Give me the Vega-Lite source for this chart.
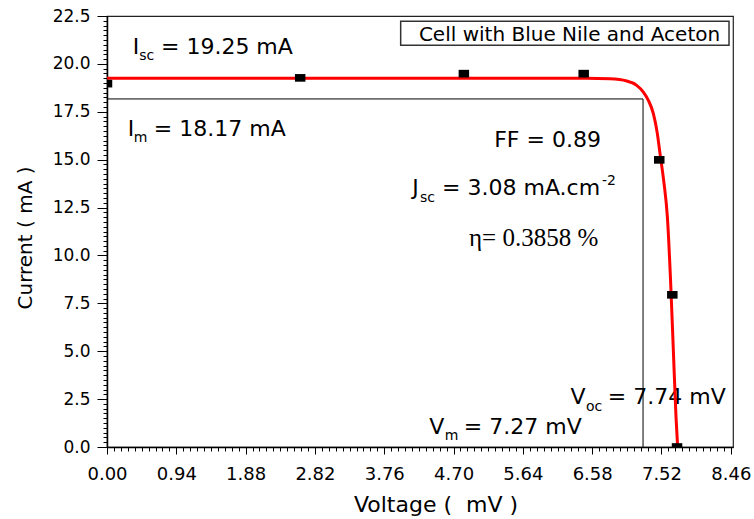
{
  "$schema": "https://vega.github.io/schema/vega-lite/v6.json",
  "width": 626,
  "height": 431,
  "autosize": {"type": "none"},
  "padding": {"left": 107, "top": 16, "right": 21, "bottom": 72},
  "background": "white",
  "config": {
    "view": {"stroke": "#222222", "strokeWidth": 1.2},
    "font": "DejaVu Sans",
    "axis": {"labelFont": "DejaVu Sans", "titleFont": "DejaVu Sans", "labelColor": "black", "titleColor": "black", "titleFontWeight": "normal", "grid": false,
      "labelOverlap": false, "labelFlush": false, "labelBound": false, "tickColor": "black", "domainColor": "black", "zindex": 2, "ticks": true, "domain": true, "tickWidth": 1, "domainWidth": 1.5}
  },
  "layer": [
    {
      "data": {"values": [
        {"x": 0, "x2": 7.27, "y": 18.17, "y2": 18.17},
        {"x": 7.27, "x2": 7.27, "y": 0, "y2": 18.17}
      ]},
      "mark": {"type": "rule", "color": "black", "strokeWidth": 1},
      "encoding": {
        "x": {"field": "x", "type": "quantitative", "scale": {"domain": [0, 8.49], "nice": false, "zero": false}},
        "y": {"field": "y", "type": "quantitative", "scale": {"domain": [0, 22.5], "nice": false, "zero": false}},
        "x2": {"field": "x2"}, "y2": {"field": "y2"}}
    },
    {
      "data": {"values": [
        {"x": 3.983, "x2": 8.436, "y": 22.22, "y2": 20.97}
      ]},
      "mark": {"type": "rect", "fill": "white", "stroke": "#333333", "strokeWidth": 1.5},
      "encoding": {
        "x": {"field": "x", "type": "quantitative"},
        "y": {"field": "y", "type": "quantitative"},
        "x2": {"field": "x2"}, "y2": {"field": "y2"}}
    },
    {
      "data": {"values": [
        {"x": 6.273, "y": 21.18, "t": "Cell with Blue Nile and Aceton"}
      ]},
      "mark": {"type": "text", "font": "DejaVu Sans", "fontSize": 20, "align": "center", "baseline": "alphabetic", "color": "black"},
      "encoding": {"x": {"field": "x", "type": "quantitative"}, "y": {"field": "y", "type": "quantitative"}, "text": {"field": "t"}}
    },
    {
      "data": {"values": [
        {"x": 0.35, "y": 20.5, "t": "I"},
        {"x": 0.732, "y": 20.5, "t": "= 19.25 mA"},
        {"x": 0.282, "y": 16.22, "t": "I"},
        {"x": 0.635, "y": 16.22, "t": "= 18.17 mA"},
        {"x": 4.14, "y": 13.14, "t": "J"},
        {"x": 4.545, "y": 13.14, "t": "= 3.08 mA.cm"},
        {"x": 6.286, "y": 2.266, "t": "V"},
        {"x": 6.792, "y": 2.266, "t": "= 7.74 mV"},
        {"x": 4.369, "y": 0.7, "t": "V"},
        {"x": 4.839, "y": 0.7, "t": "= 7.27 mV"}
      ]},
      "mark": {"type": "text", "font": "DejaVu Sans", "fontSize": 22, "align": "left", "baseline": "alphabetic", "color": "black"},
      "encoding": {"x": {"field": "x", "type": "quantitative"}, "y": {"field": "y", "type": "quantitative"}, "text": {"field": "t"}}
    },
    {
      "data": {"values": [
        {"x": 0.437, "y": 20.19, "t": "sc"},
        {"x": 0.362, "y": 15.92, "t": "m"},
        {"x": 4.245, "y": 12.79, "t": "sc"},
        {"x": 6.714, "y": 13.66, "t": "-2"},
        {"x": 6.495, "y": 1.879, "t": "oc"},
        {"x": 4.58, "y": 0.35, "t": "m"}
      ]},
      "mark": {"type": "text", "font": "DejaVu Sans", "fontSize": 14, "align": "left", "baseline": "alphabetic", "color": "black"},
      "encoding": {"x": {"field": "x", "type": "quantitative"}, "y": {"field": "y", "type": "quantitative"}, "text": {"field": "t"}}
    },
    {
      "data": {"values": [
        {"x": 5.975, "y": 15.66, "t": "FF = 0.89"}
      ]},
      "mark": {"type": "text", "font": "DejaVu Sans", "fontSize": 22, "align": "center", "baseline": "alphabetic", "color": "black"},
      "encoding": {"x": {"field": "x", "type": "quantitative"}, "y": {"field": "y", "type": "quantitative"}, "text": {"field": "t"}}
    },
    {
      "data": {"values": [
        {"x": 5.786, "y": 10.48, "t": "η= 0.3858 %"}
      ]},
      "mark": {"type": "text", "font": "Liberation Serif", "fontSize": 25, "align": "center", "baseline": "alphabetic", "color": "black"},
      "encoding": {"x": {"field": "x", "type": "quantitative"}, "y": {"field": "y", "type": "quantitative"}, "text": {"field": "t"}}
    },
    {
      "data": {"values": [
        {"x": 0, "y": 19.25},
        {"x": 2, "y": 19.25},
        {"x": 4, "y": 19.25},
        {"x": 6.144, "y": 19.25},
        {"x": 6.5, "y": 19.25},
        {"x": 6.822, "y": 19.22},
        {"x": 7.049, "y": 19.11},
        {"x": 7.184, "y": 18.88},
        {"x": 7.274, "y": 18.53},
        {"x": 7.342, "y": 18.1},
        {"x": 7.41, "y": 17.4},
        {"x": 7.464, "y": 16.36},
        {"x": 7.5, "y": 15.32},
        {"x": 7.532, "y": 14.44},
        {"x": 7.555, "y": 13.75},
        {"x": 7.6, "y": 12.01},
        {"x": 7.645, "y": 8.53},
        {"x": 7.681, "y": 5.05},
        {"x": 7.717, "y": 1.57},
        {"x": 7.738, "y": 0.1}
      ]},
      "mark": {"type": "line", "color": "#ff0000", "strokeWidth": 3, "interpolate": "monotone"},
      "encoding": {"x": {"field": "x", "type": "quantitative"}, "y": {"field": "y", "type": "quantitative"}}
    },
    {
      "data": {"values": [
        {"x": 0, "y": 18.97},
        {"x": 2.62, "y": 19.27},
        {"x": 4.84, "y": 19.49},
        {"x": 6.465, "y": 19.49},
        {"x": 7.49, "y": 14.99},
        {"x": 7.667, "y": 7.945},
        {"x": 7.731, "y": 0}
      ]},
      "mark": {"type": "point", "shape": "M-1,-0.73L1,-0.73L1,0.73L-1,0.73Z", "filled": true, "color": "black", "opacity": 1, "size": 110, "clip": true},
      "encoding": {
        "x": {"field": "x", "type": "quantitative",
          "axis": {"values": [0,0.094,0.188,0.282,0.376,0.47,0.564,0.658,0.752,0.846,0.94,1.034,1.128,1.222,1.316,1.41,1.504,1.598,1.692,1.786,1.88,1.974,2.068,2.162,2.256,2.35,2.444,2.538,2.632,2.726,2.82,2.914,3.008,3.102,3.196,3.29,3.384,3.478,3.572,3.666,3.76,3.854,3.948,4.042,4.136,4.23,4.324,4.418,4.512,4.606,4.7,4.794,4.888,4.982,5.076,5.17,5.264,5.358,5.452,5.546,5.64,5.734,5.828,5.922,6.016,6.11,6.204,6.298,6.392,6.486,6.58,6.674,6.768,6.862,6.956,7.05,7.144,7.238,7.332,7.426,7.52,7.614,7.708,7.802,7.896,7.99,8.084,8.178,8.272,8.366,8.46],
            "tickCount": 200,
            "labelExpr": "abs(datum.value/0.94 - round(datum.value/0.94)) < 0.01 ? format(datum.value, '.2f') : ''",
            "labelOverlap": false, "labelFlush": false, "labelBound": false, "orient": "bottom",
            "tickSize": {"condition": {"test": "abs(datum.value/0.94 - round(datum.value/0.94)) < 0.01", "value": 7}, "value": 4},
            "labelFontSize": 18, "labelPadding": 11.5,
            "title": "Voltage (\u00a0\u00a0mV )", "titleFontSize": 22, "titleX": 328.5, "titleY": 64, "titleBaseline": "alphabetic", "titleAlign": "center"}},
        "y": {"field": "y", "type": "quantitative",
          "axis": {"values": [0,0.25,0.5,0.75,1,1.25,1.5,1.75,2,2.25,2.5,2.75,3,3.25,3.5,3.75,4,4.25,4.5,4.75,5,5.25,5.5,5.75,6,6.25,6.5,6.75,7,7.25,7.5,7.75,8,8.25,8.5,8.75,9,9.25,9.5,9.75,10,10.25,10.5,10.75,11,11.25,11.5,11.75,12,12.25,12.5,12.75,13,13.25,13.5,13.75,14,14.25,14.5,14.75,15,15.25,15.5,15.75,16,16.25,16.5,16.75,17,17.25,17.5,17.75,18,18.25,18.5,18.75,19,19.25,19.5,19.75,20,20.25,20.5,20.75,21,21.25,21.5,21.75,22,22.25,22.5],
            "tickCount": 200,
            "labelExpr": "abs(datum.value/2.5 - round(datum.value/2.5)) < 0.01 ? format(datum.value, '.1f') : ''",
            "labelOverlap": false, "labelFlush": false, "labelBound": false, "orient": "left",
            "tickSize": {"condition": {"test": "abs(datum.value/2.5 - round(datum.value/2.5)) < 0.01", "value": 10}, "value": 4},
            "labelFontSize": 17, "labelPadding": 7,
            "title": "Current ( mA )", "titleFontSize": 20, "titleX": -76, "titleY": 221.5, "titleBaseline": "alphabetic", "titleAlign": "center", "titleAngle": -90}}
      }
    }
  ]
}
